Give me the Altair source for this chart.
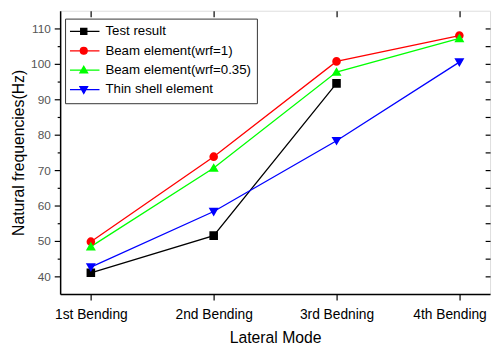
import altair as alt
import pandas as pd

modes = ["1st Bending", "2nd Bending", "3rd Bedning", "4th Bending"]
series = ["Test result", "Beam element(wrf=1)", "Beam element(wrf=0.35)", "Thin shell element"]
test_result = [41.0, 51.5, 94.5, None]
beam_wrf1 = [49.8, 73.8, 100.7, 108.0]
beam_wrf035 = [48.4, 70.6, 97.7, 107.2]
thin_shell = [42.6, 58.3, 78.3, 100.5]
colors = ["#000000", "#ff0000", "#00ff00", "#0000ff"]
shapes = ["square", "circle", "triangle-up", "triangle-down"]

rows = []
for name, vals in zip(series, [test_result, beam_wrf1, beam_wrf035, thin_shell]):
    for i, v in enumerate(vals):
        if v is not None:
            rows.append({"series": name, "idx": i + 1, "mode": modes[i], "value": v})
df = pd.DataFrame(rows)

# legend symbol paths: line + marker
legend_paths = [
    "M-1.31,0H1.23M-0.24,-0.24H0.24V0.24H-0.24Z",
    "M-1.31,0H1.23M-0.27,0A0.27,0.27 0 1,0 0.27,0A0.27,0.27 0 1,0 -0.27,0Z",
    "M-1.31,0H1.23M0,-0.3L0.3,0.22H-0.3Z",
    "M-1.31,0H1.23M0,0.3L0.3,-0.22H-0.3Z",
]
expr = "'" + legend_paths[-1] + "'"
for name, p in reversed(list(zip(series[:-1], legend_paths[:-1]))):
    expr = f"datum.value === '{name}' ? '{p}' : ({expr})"

label_expr = "[" + ",".join(f"'{m}'" for m in modes) + "][datum.value - 1]"

FONT = "Liberation Sans"
xscale = alt.Scale(domain=[0.75, 4.25], nice=False, zero=False)
yscale = alt.Scale(domain=[35, 115], nice=False, zero=False)
cscale = alt.Scale(domain=series, range=colors)
yticks = list(range(40, 111, 5))

bottom_axis = alt.Axis(
    values=[1, 2, 3, 4], labelExpr=label_expr, title="Lateral Mode", grid=False,
    tickSize=6, tickColor="black", tickWidth=1.2, domainColor="black", domainWidth=1.5,
    labelFont=FONT, labelFontSize=14, labelColor="black", labelPadding=8,
    labelOffset={"condition": {"test": "datum.value === 4", "value": -10}, "value": 0},
    labelBound=False,
    titleFont=FONT, titleFontSize=16, titleFontWeight="normal", titleColor="black", titlePadding=8,
)
left_axis = alt.Axis(
    values=yticks, labelExpr="datum.value % 10 === 0 ? datum.label : ''",
    title="Natural frequencies(Hz)", grid=False,
    tickSize={"condition": {"test": "datum.value % 10 === 0", "value": 6}, "value": 3},
    tickColor="black", tickWidth=1.2, domainColor="black", domainWidth=1.5,
    labelFont=FONT, labelFontSize=12, labelColor="#555555", labelPadding=4,
    titleFont=FONT, titleFontSize=16, titleFontWeight="normal", titleColor="black", titlePadding=4,
)
top_axis = alt.Axis(orient="top", values=[1, 2, 3, 4], labels=False, title=None, grid=False,
                    domain=False, tickSize=6, offset=-6, tickColor="black", tickWidth=1.2)
right_axis = alt.Axis(orient="right", values=yticks, labels=False, title=None, grid=False,
                      domain=False, tickSize=5, offset=-5, tickColor="black", tickWidth=1.2)

def make_legend():
    return alt.Legend(
        title=None, orient="none", legendX=5, legendY=8,
        strokeColor="#333333", fillColor="white", padding=5, rowPadding=3.7,
        labelFont=FONT, labelFontSize=13.5, labelColor="black", labelOffset=8,
        symbolSize=676, clipHeight=16, symbolStrokeWidth=1.3, symbolOpacity=1,
        symbolType=alt.ExprRef(expr=expr),
    )

base = alt.Chart(df)
lines = base.mark_line(strokeWidth=1.3).encode(
    x=alt.X("idx:Q", scale=xscale, axis=bottom_axis),
    y=alt.Y("value:Q", scale=yscale, axis=left_axis),
    color=alt.Color("series:N", scale=cscale, legend=make_legend()),
    order="idx:Q",
)
point_layers = []
for name, shp in zip(series, shapes):
    point_layers.append(
        base.transform_filter(alt.datum.series == name)
        .mark_point(filled=True, opacity=1, size=45, shape=shp)
        .encode(
            x=alt.X("idx:Q", scale=xscale, axis=None),
            y=alt.Y("value:Q", scale=yscale, axis=None),
            color=alt.Color("series:N", scale=cscale, legend=make_legend()),
            stroke=alt.Stroke("series:N", scale=cscale, legend=make_legend()),
        )
    )
mirror = base.mark_point(opacity=0).encode(
    x=alt.X("idx:Q", scale=xscale, axis=top_axis),
    y=alt.Y("value:Q", scale=yscale, axis=right_axis),
)

chart = alt.layer(lines, *point_layers, mirror).resolve_axis(
    x="independent", y="independent"
).properties(
    width=437, height=288,
    autosize=alt.AutoSizeParams(type="none"),
    padding={"left": 53, "top": 0, "right": 4, "bottom": 50},
).configure_view(stroke="black", strokeWidth=1.5).configure(background="white")

chart.save("out.html", embed_options={"renderer": "svg", "actions": False})
